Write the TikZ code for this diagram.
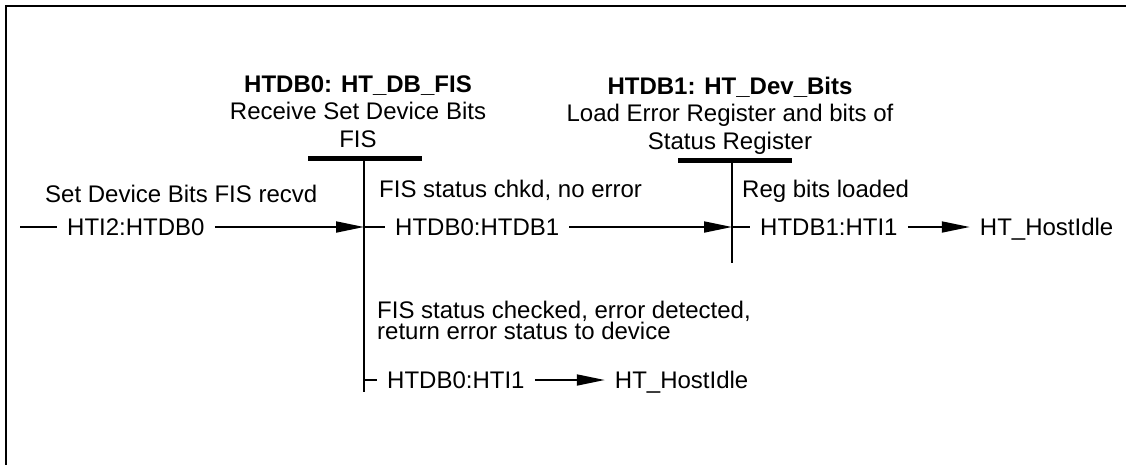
\documentclass[tikz,border=0pt]{standalone}
\usepackage{fontspec}
\setmainfont{Liberation Sans}
\usetikzlibrary{arrows.meta,positioning}

\begin{document}
\begin{tikzpicture}[x=1pt, y=-1pt, node distance=10.7pt,
  txt/.style={font=\fontsize{24}{24}\selectfont, inner sep=0pt},
  ttl/.style={txt, font=\fontsize{24}{27.5}\selectfont, align=center, text depth=0pt},
  note/.style={txt, font=\fontsize{24}{21}\selectfont, align=left, text depth=0pt},
  lbl/.style={txt, inner xsep=10pt, text height=17pt, text depth=0pt},
  bar/.style={line width=5pt},
  life/.style={line width=2.5pt},
  link/.style={line width=1.8pt},
  flow/.style={link, -{Triangle[length=28pt, width=11pt]}}]
  \useasboundingbox (0,0) rectangle (1126,464);
  \draw[line width=2.5pt] (6,470) -- (6,6) -- (1130,6);

  \coordinate (s0) at (364,158);
  \coordinate (s1) at (732,160);
  \draw[bar] ([xshift=-56]s0) -- ([xshift=58]s0);
  \draw[bar] ([xshift=-54]s1) -- ([xshift=60]s1);
  \draw[life] (s0) -- ++(0,234);
  \draw[life] (s1) -- ++(0,103);
  \node[ttl, above=of s0, xshift=-6pt] (t0) {\textbf{HTDB0: HT\_DB\_FIS}\\Receive Set Device Bits\\FIS};
  \node[ttl, above=of s1, xshift=-2pt] (t1) {\textbf{HTDB1: HT\_Dev\_Bits}\\Load Error Register and bits of\\Status Register};

  \coordinate (in0) at (20,227);
  \node[lbl, anchor=west] (e0) at (57,227) {HTI2:HTDB0};
  \coordinate (r0) at (e0 -| s0);
  \node[lbl, anchor=west] (e01) at ([xshift=21]r0) {HTDB0:HTDB1};
  \coordinate (r1) at (e01 -| s1);
  \node[lbl, anchor=west] (e1x) at ([xshift=18]r1) {HTDB1:HTI1};
  \node[lbl, right=62pt of e1x] (idle1) {HT\_HostIdle};
  \draw[link] (in0) -- (e0.west);
  \draw[flow] (e0.east) -- (r0);
  \draw[link] (r0) -- (e01.west);
  \draw[flow] (e01.east) -- (r1);
  \draw[link] (r1) -- (e1x.west);
  \draw[flow] (e1x.east) -- (idle1.west);

  \coordinate (r2) at (364,380);
  \node[lbl, anchor=west] (e0x) at ([xshift=13]r2) {HTDB0:HTI1};
  \node[lbl, right=70pt of e0x] (idle0) {HT\_HostIdle};
  \draw[link] (r2) -- (e0x.west);
  \draw[flow] (e0x.east) -- (idle0.west);

  \node[note, anchor=base west] (c0) at (45,202) {Set Device Bits FIS recvd};
  \node[note, anchor=base west] (c01) at (379,197) {FIS status chkd, no error};
  \node[note, anchor=base west] (c1x) at (742,197) {Reg bits loaded};
  \node[note, anchor=south west] (c0x) at (377,340)
       {FIS status checked, error detected,\\return error status to device};
\end{tikzpicture}
\end{document}
